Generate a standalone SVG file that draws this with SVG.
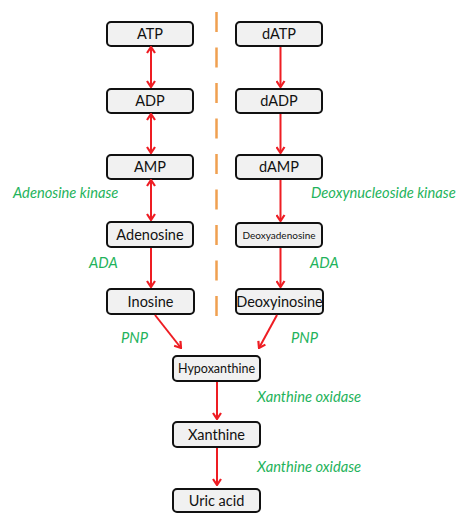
<svg xmlns="http://www.w3.org/2000/svg" width="457" height="513" viewBox="0 0 457 513">
  <style>
    .box rect { fill: #f1f1f1; stroke: #111; stroke-width: 2; }
    .box text { font-family: Lato, "Open Sans", sans-serif; font-size: 14.5px; fill: #111; text-anchor: middle; }
    .enz { font-family: Lato, "Open Sans", sans-serif; font-size: 14.7px; font-style: italic; fill: #1fb35c; }
    .arr { stroke: #ee1d23; stroke-width: 2; fill: none; }
    .one { marker-end: url(#head); }
    .two { marker-start: url(#head); marker-end: url(#head); }
  </style>
  <defs>
    <marker id="head" viewBox="0 0 8 10" refX="7" refY="5" markerWidth="8" markerHeight="10" markerUnits="userSpaceOnUse" orient="auto-start-reverse">
      <path d="M1,1 L7,5 L1,9" fill="none" stroke="#ee1d23" stroke-width="2.2"/>
    </marker>
  </defs>

  <rect width="457" height="513" fill="#ffffff"/>

  <!-- divider between ribo and deoxy branches -->
  <line x1="216.5" y1="12" x2="216.5" y2="317" stroke="#f0a050" stroke-width="2.5" stroke-dasharray="20 15.5"/>

  <!-- ribonucleotide branch -->
  <g id="atp" class="box"><rect x="107" y="22" width="86" height="24" rx="4"/><text x="150" y="39">ATP</text></g>
  <g id="adp" class="box"><rect x="107" y="89" width="86" height="24" rx="4"/><text x="150" y="106">ADP</text></g>
  <g id="amp" class="box"><rect x="107" y="155" width="86" height="24" rx="4"/><text x="150" y="172">AMP</text></g>
  <g id="adenosine" class="box"><rect x="107" y="222" width="86" height="25" rx="4"/><text x="150" y="239.5">Adenosine</text></g>
  <g id="inosine" class="box"><rect x="107" y="289" width="87" height="25" rx="4"/><text x="150.5" y="306.5">Inosine</text></g>

  <!-- deoxyribonucleotide branch -->
  <g id="datp" class="box"><rect x="236" y="22" width="86" height="24" rx="4"/><text x="279" y="39">dATP</text></g>
  <g id="dadp" class="box"><rect x="236" y="89" width="86" height="24" rx="4"/><text x="279" y="106">dADP</text></g>
  <g id="damp" class="box"><rect x="236" y="155" width="86" height="24" rx="4"/><text x="279" y="172">dAMP</text></g>
  <g id="deoxyadenosine" class="box"><rect x="236" y="223" width="86" height="24" rx="4"/><text x="279" y="238.5" style="font-size:10px">Deoxyadenosine</text></g>
  <g id="deoxyinosine" class="box"><rect x="236" y="289" width="87" height="25" rx="4"/><text x="279.5" y="306.5">Deoxyinosine</text></g>

  <!-- shared purine degradation -->
  <g id="hypoxanthine" class="box"><rect x="173" y="356" width="87" height="25" rx="4"/><text x="216.5" y="373" style="font-size:12.5px">Hypoxanthine</text></g>
  <g id="xanthine" class="box"><rect x="173" y="422" width="87" height="25" rx="4"/><text x="216.5" y="439.5">Xanthine</text></g>
  <g id="uric-acid" class="box"><rect x="173" y="489" width="87" height="23" rx="4"/><text x="216.5" y="506">Uric acid</text></g>

  <!-- connectors -->
  <g id="connectors" class="arr">
    <line class="two" x1="151" y1="47" x2="151" y2="87"/>
    <line class="two" x1="151" y1="114" x2="151" y2="153"/>
    <line class="two" x1="151" y1="180" x2="151" y2="220"/>
    <line class="one" x1="151" y1="248" x2="151" y2="287"/>
    <line class="one" x1="280.5" y1="47" x2="280.5" y2="87"/>
    <line class="one" x1="280.5" y1="114" x2="280.5" y2="153"/>
    <line class="one" x1="280.5" y1="180" x2="280.5" y2="221"/>
    <line class="one" x1="280.5" y1="248" x2="280.5" y2="287"/>
    <line class="one" x1="155" y1="315" x2="181" y2="348"/>
    <line class="one" x1="277" y1="315" x2="259" y2="348"/>
    <line class="one" x1="217" y1="382" x2="217" y2="419"/>
    <line class="one" x1="217" y1="448" x2="217" y2="485"/>
  </g>

  <!-- enzyme labels -->
  <text class="enz" x="13" y="198">Adenosine kinase</text>
  <text class="enz" x="311" y="198">Deoxynucleoside kinase</text>
  <text class="enz" x="89" y="268">ADA</text>
  <text class="enz" x="310" y="268">ADA</text>
  <text class="enz" x="121" y="343">PNP</text>
  <text class="enz" x="291" y="343">PNP</text>
  <text class="enz" x="257" y="402">Xanthine oxidase</text>
  <text class="enz" x="257" y="472">Xanthine oxidase</text>
</svg>
